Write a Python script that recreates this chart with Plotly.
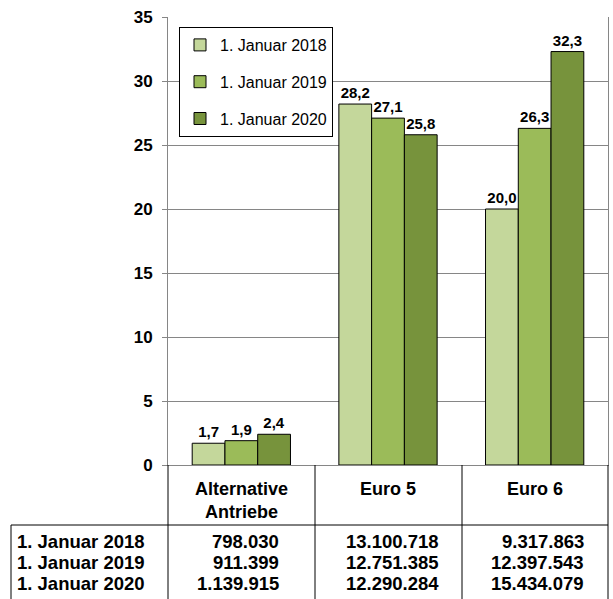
import plotly.graph_objects as go

categories = ["Alternative<br>Antriebe", "Euro 5", "Euro 6"]
series_names = ["1. Januar 2018", "1. Januar 2019", "1. Januar 2020"]
shares_2018 = [1.7, 28.2, 20.0]
shares_2019 = [1.9, 27.1, 26.3]
shares_2020 = [2.4, 25.8, 32.3]
counts_2018 = [798030, 13100718, 9317863]
counts_2019 = [911399, 12751385, 12397543]
counts_2020 = [1139915, 12290284, 15434079]
y_ticks = [0, 5, 10, 15, 20, 25, 30, 35]

colors = ["#C4D79B", "#9BBB59", "#77933C"]
FONT = "Arial, 'Liberation Sans', sans-serif"

W, H = 613, 599
L, R, T, B = 168, 5, 17, 134
PW = W - L - R
PH = H - T - B


def px(x):
    return (x - L) / PW


def py(y):
    return (H - B - y) / PH


def de(v):
    return f"{v:.1f}".replace(".", ",")


def thousands(n):
    return f"{n:,}".replace(",", ".")


fig = go.Figure()
for i, (name, vals) in enumerate(zip(series_names, [shares_2018, shares_2019, shares_2020])):
    fig.add_trace(go.Bar(
        x=categories, y=vals, name=name,
        marker=dict(color=colors[i], line=dict(color="black", width=1)),
        text=[de(v) for v in vals], textposition="outside",
        textfont=dict(family=FONT, size=15, color="black", weight="bold"),
        cliponaxis=False, legendgroup=name,
    ))

fig.update_layout(
    width=W, height=H,
    margin=dict(l=L, r=R, t=T, b=B, pad=0),
    paper_bgcolor="white", plot_bgcolor="white",
    barmode="group", bargap=0.33, bargroupgap=0,
    font=dict(family=FONT, color="black"),
    showlegend=True,
    legend=dict(
        x=px(179), y=py(27), xanchor="left", yanchor="top",
        bordercolor="black", borderwidth=1, bgcolor="white",
        font=dict(family=FONT, size=16, color="black"),
        traceorder="grouped", tracegroupgap=13, itemwidth=30,
    ),
    xaxis=dict(
        showticklabels=False, ticks="", showgrid=False,
        showline=True, linecolor="#868686", linewidth=1,
        range=[-0.5, 2.5],
    ),
    yaxis=dict(
        range=[0, 35], tickvals=y_ticks, ticks="outside", ticklen=5,
        tickcolor="#868686", showgrid=True, gridcolor="#868686", gridwidth=1,
        showline=True, linecolor="#868686", linewidth=1, mirror=True,
        tickfont=dict(family=FONT, size=17, color="black", weight="bold"),
        ticklabelstandoff=6,
        zeroline=False,
    ),
)

shapes = []
line = dict(color="black", width=1)
for xb in [168, 315, 462, 608]:
    shapes.append(dict(type="line", xref="paper", yref="paper",
                       x0=px(xb), x1=px(xb), y0=py(465), y1=py(600), line=line))
shapes.append(dict(type="line", xref="paper", yref="paper",
                   x0=px(11), x1=px(608), y0=py(525), y1=py(525), line=line))
shapes.append(dict(type="line", xref="paper", yref="paper",
                   x0=px(11), x1=px(11), y0=py(525), y1=py(600), line=line))
fig.update_layout(shapes=shapes)

ann = []
for c in categories:
    ann.append(dict(x=c, xref="x", y=py(477), yref="paper", text=f"<b>{c}</b>",
                    showarrow=False, xanchor="center", yanchor="top",
                    font=dict(family=FONT, size=18, color="black")))
row_y = [541, 562, 583]
right_x = [281, 441, 586]
for r, (name, counts) in enumerate(zip(series_names, [counts_2018, counts_2019, counts_2020])):
    ann.append(dict(x=px(15), xref="paper", y=py(row_y[r]), yref="paper",
                    text=f"<b>{name}</b>", showarrow=False,
                    xanchor="left", yanchor="middle",
                    font=dict(family=FONT, size=18.5, color="black")))
    for c, n in enumerate(counts):
        ann.append(dict(x=px(right_x[c]), xref="paper", y=py(row_y[r]), yref="paper",
                        text=f"<b>{thousands(n)}</b>", showarrow=False,
                        xanchor="right", yanchor="middle",
                        font=dict(family=FONT, size=18.5, color="black")))
fig.update_layout(annotations=ann)

fig.write_html("out.html", config={"displayModeBar": False},
               post_script="document.body.style.margin='0px';")
